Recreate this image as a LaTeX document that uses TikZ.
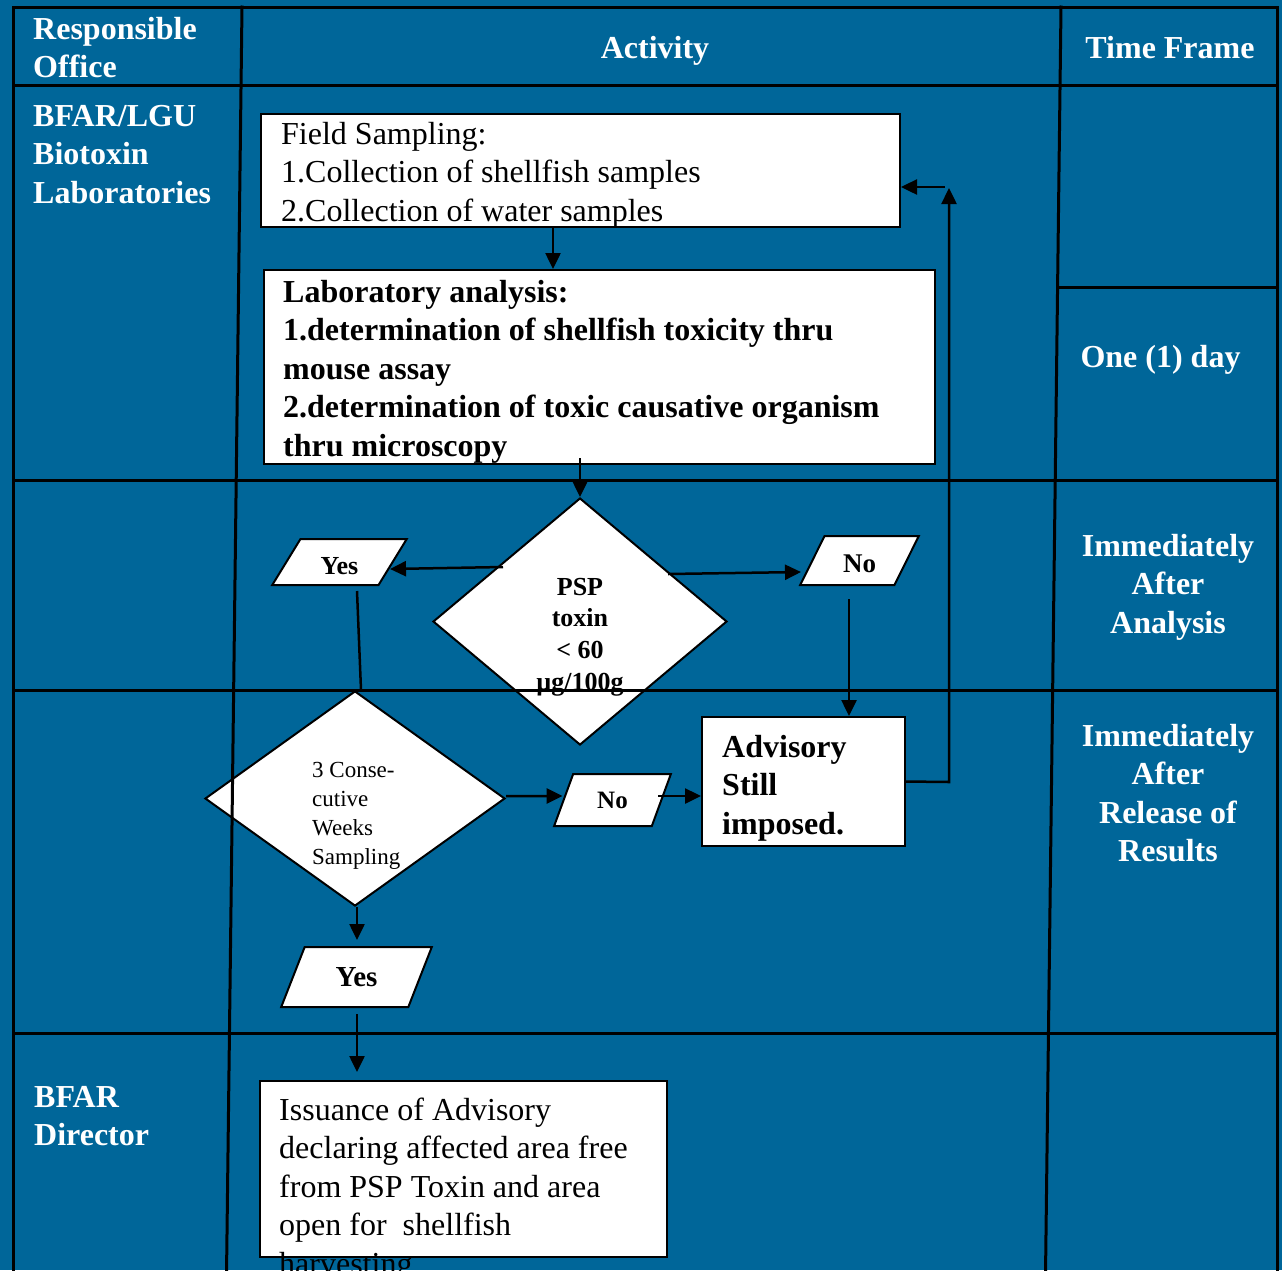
\documentclass[tikz,border=0pt]{standalone}
\usepackage{fontspec}
\setmainfont{Liberation Serif}
\usetikzlibrary{shapes.geometric,arrows.meta,calc}
\definecolor{bgblue}{RGB}{0,102,153}
\begin{document}
\begin{tikzpicture}[x=1pt,y=-1pt,
  grid/.style={line width=3pt, black, line cap=rect},
  box/.style={draw=black, line width=2pt, fill=white, rectangle, inner sep=0pt},
  dia/.style={draw=black, line width=2pt, fill=white, diamond, inner sep=0pt},
  para/.style={draw=black, line width=2pt, fill=white, trapezium, trapezium stretches=true, inner sep=0pt},
  arr/.style={line width=2.5pt, -{Triangle[length=16pt,width=15pt]}},
  conn/.style={line width=2.5pt},
  hd/.style={text=white, font=\fontsize{32pt}{38.5pt}\selectfont\bfseries, inner sep=0pt, align=left},
  bt/.style={font=\fontsize{32pt}{38.5pt}\selectfont, inner sep=0pt, align=left, anchor=north west},
  bb/.style={font=\fontsize{32pt}{38.5pt}\selectfont\bfseries, inner sep=0pt, align=left, anchor=north west}
]
\fill[bgblue] (0,0) rectangle (1282,1270);
\useasboundingbox (0,0) rectangle (1282,1270);

% shapes
\node[box, minimum width=639pt, minimum height=113pt] (fs) at (580.5,170.5) {};
\node[box, minimum width=671pt, minimum height=194pt] (lab) at (599.5,367) {};
\node[dia, minimum width=294pt, minimum height=247pt] (psp) at (580,621.5) {};
\node[para, trapezium left angle=60.5, trapezium right angle=119.5, minimum width=135pt, minimum height=46pt,
      text height=24pt, text depth=0pt,
      font=\fontsize{26pt}{30pt}\selectfont\bfseries] (yes1) at (339.5,562) {Yes};
\node[para, trapezium left angle=63.4, trapezium right angle=116.6, minimum width=119pt, minimum height=49pt,
      text height=23pt, text depth=0pt,
      font=\fontsize{27pt}{30pt}\selectfont\bfseries] (no1) at (859.5,560.5) {No};
\node[dia, minimum width=300pt, minimum height=215pt] (wk) at (355,798.5) {};
\node[para, trapezium left angle=66, trapezium right angle=114, minimum width=117pt, minimum height=52pt,
      font=\fontsize{25pt}{30pt}\selectfont\bfseries] (no2) at (612.5,800) {No};
\node[para, trapezium left angle=63.8, trapezium right angle=116.2, minimum width=151pt, minimum height=60pt,
      font=\fontsize{29pt}{30pt}\selectfont\bfseries] (yes2) at (356.5,977) {Yes};
\node[box, minimum width=203pt, minimum height=129pt] (adv) at (803.5,781.5) {};
\node[box, minimum width=407pt, minimum height=176pt] (iss) at (463.5,1169) {};

% connectors
\draw[arr] ([xshift=-27.5pt]fs.south) -- ([xshift=-46.5pt]lab.north);
\draw[arr] ([xshift=-19.5pt,yshift=7pt]lab.south) -- (psp.north);
\draw[arr] ($(psp.center)+(-77,-54.5)$) -- ($(yes1.center)+(50.5,7)$);
\draw[conn] ($(yes1.center)+(17.5,29)$) -- ($(wk.north)+(6,0)$);
\draw[arr] ($(psp.center)+(88,-47.5)$) -- ($(no1.center)+(-58.5,11.5)$);
\draw[arr] ($(no1.center)+(-10.5,38.5)$) -- ($(adv.north)+(45.5,0)$);
\draw[arr] ($(wk.east)+(0,-2.5)$) -- ($(no2.west)+(0,-4)$);
\draw[arr] ($(no2.center)+(45.5,-4)$) -- ($(adv.west)+(0,14.5)$);
\draw[arr] ($(wk.south)+(2,0)$) -- ($(wk.south |- yes2.center)+(2,-37)$);
\draw[arr] ($(yes2.center)+(0.5,37)$) -- ($(yes2.center |- iss.north)+(0.5,-8)$);
\coordinate (lp1) at (949,782);
\coordinate (lp2) at (949,188);
\coordinate (lp3) at (945,187);
\draw[arr] (adv.east) -- (lp1) -- (lp2);
\draw[arr] (lp3) -- ($(fs.east)+(0,16.5)$);

% texts
\node[bt] (fst) at (281,120) {\rule{0pt}{24pt}Field Sampling:\\1.Collection of shellfish samples\\2.Collection of water samples};
\node[bb] (labt) at (283,278) {\rule{0pt}{24pt}Laboratory analysis:\\1.determination of shellfish toxicity thru\\mouse assay\\2.determination of toxic causative organism\\thru microscopy};
\node[inner sep=0pt, align=center, anchor=north, font=\fontsize{26pt}{31.7pt}\selectfont\bfseries] (pspt) at (580,575.5) {\rule{0pt}{19.5pt}PSP\\toxin\\< 60\\µg/100g};
\node[inner sep=0pt, align=left, anchor=north west, font=\fontsize{23pt}{29pt}\selectfont] (wkt) at (312,759.75) {\rule{0pt}{17.25pt}3 Conse-\\cutive\\Weeks\\Sampling};
\node[bb] (advt) at (722,733) {\rule{0pt}{24pt}Advisory\\Still\\imposed.};
\node[bt] (isst) at (279,1096) {\rule{0pt}{24pt}Issuance of Advisory\\declaring affected area free\\from PSP Toxin and area\\open for\ \ shellfish\\harvesting};

% header and lane texts
\node[hd, anchor=north west] (ro) at (33,15) {\rule{0pt}{24pt}Responsible\\Office};
\node[hd, anchor=base] (act) at (655,58) {Activity};
\node[hd, anchor=base] (tf) at (1170,58) {Time Frame};
\node[hd, anchor=north west] (bfar1) at (33,102) {\rule{0pt}{24pt}BFAR/LGU\\Biotoxin\\Laboratories};
\node[hd, anchor=north west] (bfar2) at (34,1083) {\rule{0pt}{24pt}BFAR\\Director};
\node[hd, anchor=base] (t1) at (1160.5,367) {One (1) day};
\node[hd, align=center, anchor=north] (t2) at (1168,532) {\rule{0pt}{24pt}Immediately\\After\\Analysis};
\node[hd, align=center, anchor=north] (t3) at (1168,722) {\rule{0pt}{24pt}Immediately\\After\\Release of\\Results};

% table grid
\draw[grid] (13,7) -- (1277,7);
\draw[grid] (13,85) -- (1277,85);
\draw[grid] (13,480) -- (1277,480);
\draw[grid] (13,690) -- (1277,690);
\draw[grid] (13,1033) -- (1277,1033);
\draw[grid] (1058,287) -- (1277,287);
\draw[grid] (13,7) -- (13,1275);
\draw[grid] (1277,7) -- (1277,1275);
\draw[grid] (242,7) -- (226.5,1275);
\draw[grid] (1061,7) -- (1045.5,1275);
\end{tikzpicture}
\end{document}
